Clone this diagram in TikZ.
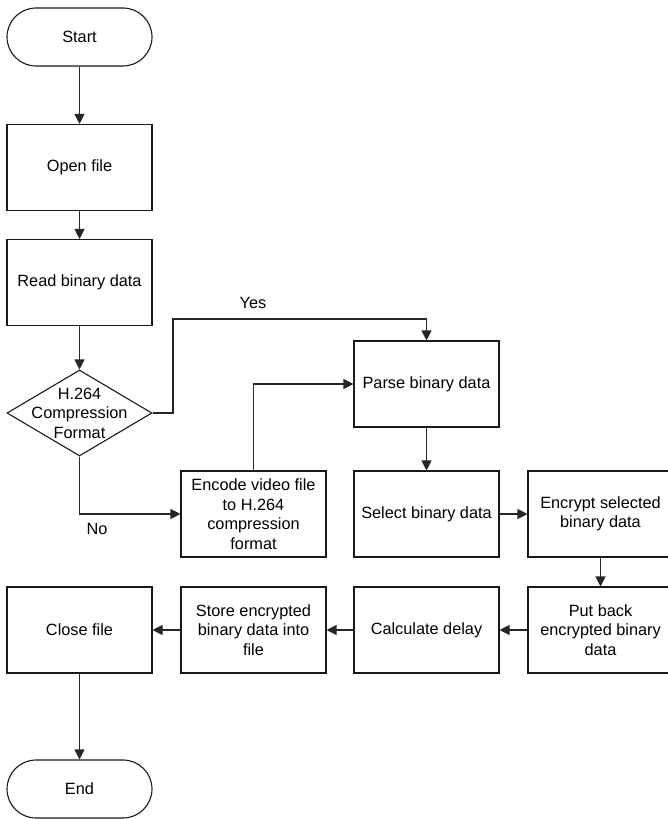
\documentclass[tikz,border=0pt]{standalone}
\usepackage{fontspec}
\setmainfont{Liberation Sans}
\usetikzlibrary{shapes.geometric,arrows.meta}
\begin{document}
\begin{tikzpicture}[x=1pt,y=-1pt,
  font=\fontsize{16.3}{19.5}\selectfont,
  box/.style={draw=black!90, line width=1.1pt, rectangle, minimum width=145pt, minimum height=86pt, inner sep=0pt, align=center},
  term/.style={draw=black!90, line width=1.1pt, rectangle, rounded corners=29pt, minimum width=145pt, minimum height=58pt, inner sep=0pt},
  dec/.style={draw=black!90, line width=1.1pt, diamond, aspect=1.686, minimum width=145pt, minimum height=86pt, inner sep=0pt},
  arr/.style={draw=black!85, line width=1.1pt, -{Triangle[length=10pt,width=10pt]}},
  lbl/.style={inner sep=0pt}]
\useasboundingbox (0,0) rectangle (668,819);
\clip (0,0) rectangle (668,819);
\node[term] (start) at (79.5,37) {Start};
\node[box] (open) at (79.5,167.5) {Open file};
\node[box] (read) at (79.5,282.5) {Read binary data};
\node[dec] (dec) at (79.5,413) {};
\node[align=center, inner sep=0pt] (dectext) at (79.5,413) {H.264\\Compression\\Format};
\node[box] (parse) at (426.5,384) {Parse binary data};
\node[box] (encode) at (253.5,514) {Encode video file\\to H.264\\compression\\format};
\node[box] (select) at (426.5,514) {Select binary data};
\node[box] (encrypt) at (600.5,514) {Encrypt selected\\binary data};
\node[box] (putback) at (600.5,630) {Put back\\encrypted binary\\data};
\node[box] (calc) at (426.5,630) {Calculate delay};
\node[box] (store) at (253.5,630) {Store encrypted\\binary data into\\file};
\node[box] (close) at (79.5,630) {Close file};
\node[term] (end) at (79.5,789) {End};
\coordinate (ycorner) at (173,319);
\node[lbl] (yes) at (253,303) {Yes};
\node[lbl] (no) at (97,529) {No};
\draw[arr] (start) -- (open);
\draw[arr] (open) -- (read);
\draw[arr] (read) -- (dec.north);
\draw[arr] (dec.east) -| (ycorner) -| (parse.north);
\draw[arr] (dec.south) |- (encode.west);
\draw[arr] (encode.north) |- (parse.west);
\draw[arr] (parse) -- (select);
\draw[arr] (select) -- (encrypt);
\draw[arr] (encrypt) -- (putback);
\draw[arr] (putback) -- (calc);
\draw[arr] (calc) -- (store);
\draw[arr] (store) -- (close);
\draw[arr] (close) -- (end);
\end{tikzpicture}
\end{document}
